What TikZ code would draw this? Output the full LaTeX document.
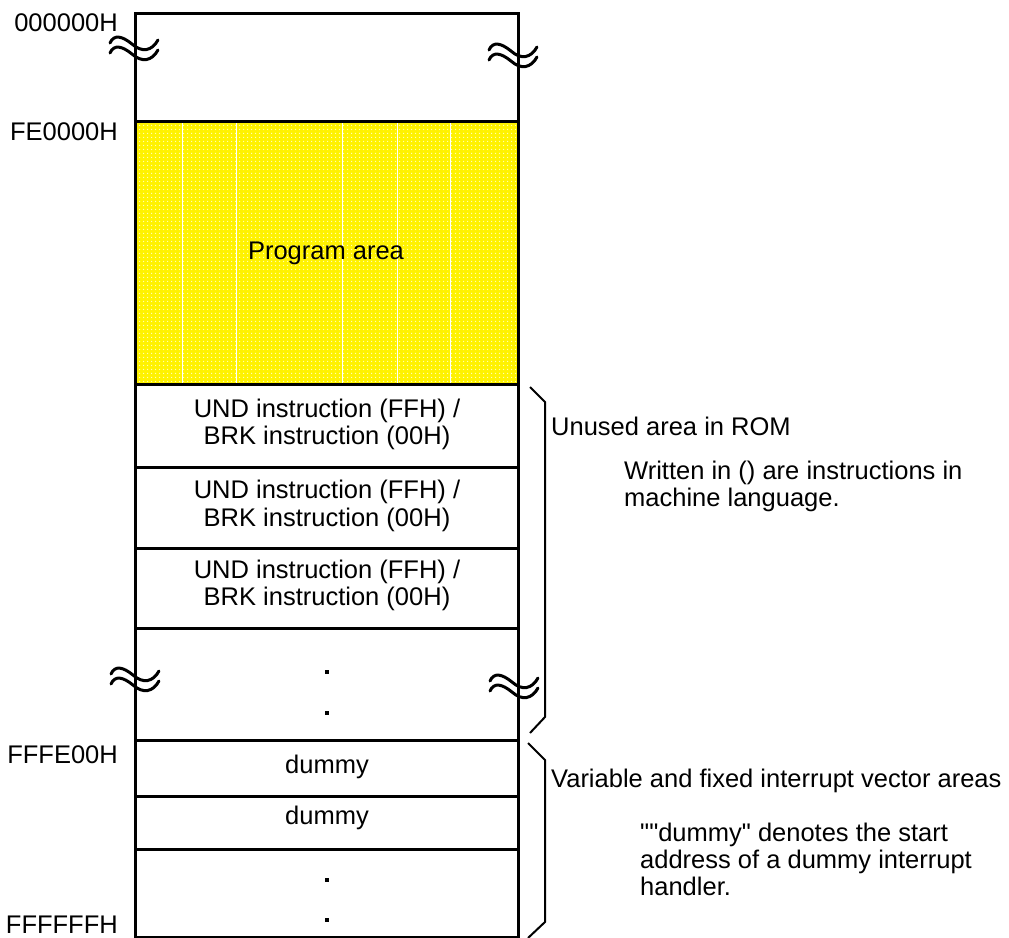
\documentclass[tikz,border=0pt]{standalone}
\usepackage{fontspec}
\newfontfamily\lsans{Liberation Sans}
\usetikzlibrary{patterns.meta}
\tikzset{
  txt/.style={inner sep=0pt, font=\lsans\fontsize{25.5}{28}\selectfont},
  lbl/.style={txt, anchor=base east},
  ctr/.style={txt, anchor=base},
  lft/.style={txt, anchor=base west},
  frame/.style={line width=3pt},
  divline/.style={line width=3pt},
  bracket/.style={line width=2pt, line join=miter},
  wave/.style={line width=3pt, line cap=round},
  seam/.style={white, line width=0.8pt},
  brk/.pic={
    \draw[wave] (0,0) .. controls (4,-9) and (12,-7) .. (22,1) .. controls (32,10) and (42,8) .. (48,-3);
    \draw[wave] (0,10) .. controls (4,1) and (12,3) .. (22,11) .. controls (32,20) and (42,18) .. (48,7);
  }
}
\begin{document}
\begin{tikzpicture}[x=1pt,y=-1pt]
\useasboundingbox (0,0) rectangle (1009,937);
\clip (0,0) rectangle (1009,937);
% program area fill
\fill[yellow] (135,121) rectangle (518,384);
\fill[pattern={Dots[distance=4pt,radius=0.9pt]}, pattern color=white!70!yellow] (135,121) rectangle (518,384);
\foreach \sx in {182,236,342,397,450} \draw[seam] (\sx,121) -- (\sx,384);
% frame and dividers
\draw[frame] (135,13) rectangle (518,937);
\foreach \ly in {121,384,467,548,628,740,796,849} \draw[divline] (135,\ly) -- (518,\ly);
% break marks
\pic at (110,43) {brk};
\pic at (489,50) {brk};
\pic at (111,674) {brk};
\pic at (490,681) {brk};
% dots
\foreach \dy in {672,713,880,920} \fill (325,\dy-2) rectangle (329,\dy+2);
% address labels
\node[lbl] (a0) at (118,31) {000000H};
\node[lbl] (a1) at (118,140) {FE0000H};
\node[lbl] (a2) at (118,763) {FFFE00H};
\node[lbl] (a3) at (118,933) {FFFFFFH};
% box texts
\node[ctr] (prog) at (326,259) {Program area};
\node[ctr] (u1a) at (327,417) {UND instruction (FFH) /};
\node[ctr] (u1b) at (327,444) {BRK instruction (00H)};
\node[ctr] (u2a) at (327,498) {UND instruction (FFH) /};
\node[ctr] (u2b) at (327,526) {BRK instruction (00H)};
\node[ctr] (u3a) at (327,578) {UND instruction (FFH) /};
\node[ctr] (u3b) at (327,605) {BRK instruction (00H)};
\node[ctr] (dm1) at (327,773) {dummy};
\node[ctr] (dm2) at (327,824) {dummy};
% brackets
\draw[bracket] (530,387) -- (545,402) -- (545,717) -- (530,733);
\draw[bracket] (528,743) -- (545,760) -- (545,922) -- (528,938);
% right texts
\node[lft] (unused) at (551,435) {Unused area in ROM};
\node[lft] (w1) at (624,479) {Written in () are instructions in};
\node[lft] (w2) at (624,506) {machine language.};
\node[lft] (var) at (551,787) {Variable and fixed interrupt vector areas};
\node[lft] (d1) at (640,841) {""dummy" denotes the start};
\node[lft] (d2) at (640,868) {address of a dummy interrupt};
\node[lft] (d3) at (640,895) {handler.};
\end{tikzpicture}
\end{document}
